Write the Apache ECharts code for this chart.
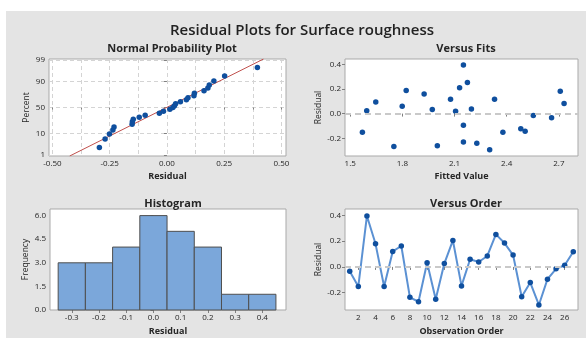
<!DOCTYPE html>
<html>
<head>
<meta charset="utf-8">
<script src="https://cdn.jsdelivr.net/npm/echarts@6.0.0/dist/echarts.min.js"></script>
<style>
html,body{margin:0;padding:0;background:#fff;}
#wrap{position:relative;width:586px;height:338px;overflow:hidden;}
#bg{position:absolute;left:6px;top:11px;right:0;bottom:0;background:#e4e4e4;}
#chart{position:absolute;left:0;top:0;width:586px;height:338px;}
</style>
</head>
<body>
<div id="wrap"><div id="bg"></div><div id="chart"></div></div>
<script>
// ---------- data ----------
const mainTitle = 'Residual Plots for Surface roughness';
const panelTitles = ['Normal Probability Plot', 'Versus Fits', 'Histogram', 'Versus Order'];

// residuals in observation order (Versus Order panel)
const observationOrder = [1,2,3,4,5,6,7,8,9,10,11,12,13,14,15,16,17,18,19,20,21,22,23,24,25,26,27];
const residualsByOrder = [-0.033,-0.151,0.395,0.179,-0.152,0.120,0.162,-0.236,-0.270,0.033,-0.251,0.026,0.205,-0.147,0.059,0.038,0.085,0.252,0.185,0.092,-0.231,-0.121,-0.295,-0.095,-0.015,0.013,0.118];

// Versus Fits panel
const fittedValues = [1.570,1.595,1.647,1.751,1.799,1.822,1.925,1.972,2.001,2.077,2.106,2.129,2.151,2.151,2.151,2.174,2.197,2.228,2.302,2.330,2.378,2.481,2.506,2.553,2.658,2.708,2.730];
const fitResiduals = [-0.152,0.024,0.095,-0.267,0.060,0.188,0.160,0.033,-0.261,0.117,0.019,0.210,0.395,-0.095,-0.231,0.253,0.038,-0.240,-0.294,0.117,-0.152,-0.122,-0.144,-0.016,-0.033,0.182,0.082];

// Normal probability plot: plotting positions (percent) of the sorted residuals
const probPercent = [2.55,6.20,9.85,13.50,17.15,20.80,24.45,28.10,31.75,35.40,39.05,42.70,46.35,50.00,53.65,57.30,60.95,64.60,68.25,71.90,75.55,79.20,82.85,86.50,90.15,93.80,97.45];
const probTickPercents = [1, 10, 50, 90, 99];
const probXTicks = [-0.5,-0.25,0,0.25,0.5];
const probXGrid = [-0.5,-0.375,-0.25,-0.125,0,0.125,0.25,0.375,0.5];

// Histogram
const histCenters = [-0.3,-0.2,-0.1,0.0,0.1,0.2,0.3,0.4];
const histCounts = [3,3,4,6,5,4,1,1];
const histBinWidth = 0.1;
const freqTicks = [0,1.5,3,4.5,6];

// tick labels
const fitsXTicks = [1.5,1.8,2.1,2.4,2.7];
const residYTicks = [-0.2,0,0.2,0.4];
const orderXTicks = [2,4,6,8,10,12,14,16,18,20,22,24,26];

// ---------- helpers ----------
function normInv(p){
  const a=[-3.969683028665376e+01,2.209460984245205e+02,-2.759285104469687e+02,1.383577518672690e+02,-3.066479806614716e+01,2.506628277459239e+00];
  const b=[-5.447609879822406e+01,1.615858368580409e+02,-1.556989798598866e+02,6.680131188771972e+01,-1.328068155288572e+01];
  const c=[-7.784894002430293e-03,-3.223964580411365e-01,-2.400758277161838e+00,-2.549732539343734e+00,4.374664141464968e+00,2.938163982698783e+00];
  const d=[7.784695709041462e-03,3.224671290700398e-01,2.445134137142996e+00,3.754408661907416e+00];
  const pl=0.02425, ph=1-pl; let q,r;
  if(p<pl){q=Math.sqrt(-2*Math.log(p));return (((((c[0]*q+c[1])*q+c[2])*q+c[3])*q+c[4])*q+c[5])/((((d[0]*q+d[1])*q+d[2])*q+d[3])*q+1);}
  if(p<=ph){q=p-0.5;r=q*q;return (((((a[0]*r+a[1])*r+a[2])*r+a[3])*r+a[4])*r+a[5])*q/(((((b[0]*r+b[1])*r+b[2])*r+b[3])*r+b[4])*r+1);}
  q=Math.sqrt(-2*Math.log(1-p));return -(((((c[0]*q+c[1])*q+c[2])*q+c[3])*q+c[4])*q+c[5])/((((d[0]*q+d[1])*q+d[2])*q+d[3])*q+1);
}
const sortedResiduals = residualsByOrder.slice().sort((x,y)=>x-y);
const probZ = probPercent.map(p=>normInv(p/100));
const probTickZ = probTickPercents.map(p=>normInv(p/100));
const n = residualsByOrder.length;
const mean = residualsByOrder.reduce((s,v)=>s+v,0)/n;
const sd = Math.sqrt(residualsByOrder.reduce((s,v)=>s+(v-mean)*(v-mean),0)/(n-1));
const zMin = -2.37, zMax = 2.37;
const fitLine = [[mean+zMin*sd, zMin],[mean+zMax*sd, zMax]];

// ---------- styling ----------
const FONT = '"Open Sans", "Noto Sans", sans-serif';
const TXT = '#262626';
const DOT = '#0f4f9e';
const FRAME = '#a9a9a9';
const tickLabel = {fontSize:8, color:TXT, fontFamily:FONT, margin:4};
const tick = {show:true, inside:false, length:3, lineStyle:{color:'#808080'}};
const axisNameStyle = {fontSize:9, color:TXT, fontFamily:FONT, fontWeight:'bold'};
const yNameStyle = {fontSize:8.5, color:TXT, fontFamily:FONT};
const panelTitleStyle = {fontSize:11, fontWeight:'bold', color:TXT, fontFamily:FONT};
const gridBase = {show:true, backgroundColor:'#ffffff', borderColor:FRAME, borderWidth:1, containLabel:false};
const zeroLine = {
  silent:true, symbol:'none', label:{show:false},
  lineStyle:{color:'#c9c9c9', type:[6,4], width:2},
  data:[{yAxis:0}]
};

const chart = echarts.init(document.getElementById('chart'), null, {renderer:'canvas'});
chart.setOption({
  backgroundColor:'transparent',
  animation:false,
  title:[
    {text:mainTitle, left:297, top:18, textAlign:'center', textStyle:{fontSize:15, fontWeight:600, color:'#222', fontFamily:FONT}},
    {text:panelTitles[0], left:167, top:38, textAlign:'center', textStyle:panelTitleStyle},
    {text:panelTitles[1], left:461, top:38, textAlign:'center', textStyle:panelTitleStyle},
    {text:panelTitles[2], left:168, top:193, textAlign:'center', textStyle:panelTitleStyle},
    {text:panelTitles[3], left:461, top:193, textAlign:'center', textStyle:panelTitleStyle}
  ],
  grid:[
    Object.assign({left:49, top:59, width:237, height:97}, gridBase),
    Object.assign({left:345, top:59, width:233, height:97}, gridBase),
    Object.assign({left:50, top:209, width:236, height:101}, gridBase),
    Object.assign({left:345, top:209, width:233, height:101}, gridBase)
  ],
  xAxis:[
    {type:'value', gridIndex:0, min:-0.515, max:0.52,
     name:'Residual', nameLocation:'middle', nameGap:16, nameTextStyle:axisNameStyle,
     axisLine:{show:false},
     axisTick:Object.assign({customValues:probXGrid}, tick, {length:2}),
     axisLabel:Object.assign({customValues:probXTicks, formatter:v=>v.toFixed(2)}, tickLabel),
     splitLine:{show:true, lineStyle:{color:'#d4d4d4', type:[4,3], width:1}}},
    {type:'value', gridIndex:1, min:1.47, max:2.81,
     name:'Fitted Value', nameLocation:'middle', nameGap:16, nameTextStyle:axisNameStyle,
     axisLine:{show:false},
     axisTick:Object.assign({customValues:fitsXTicks}, tick),
     axisLabel:Object.assign({customValues:fitsXTicks, formatter:v=>v.toFixed(1)}, tickLabel),
     splitLine:{show:false}},
    {type:'value', gridIndex:2, min:-0.38, max:0.487,
     name:'Residual', nameLocation:'middle', nameGap:17, nameTextStyle:axisNameStyle,
     axisLine:{show:false},
     axisTick:Object.assign({customValues:histCenters}, tick),
     axisLabel:Object.assign({customValues:histCenters, formatter:v=>v.toFixed(1)}, tickLabel),
     splitLine:{show:false}},
    {type:'value', gridIndex:3, min:0.45, max:27.55,
     name:'Observation Order', nameLocation:'middle', nameGap:17, nameTextStyle:axisNameStyle,
     axisLine:{show:false},
     axisTick:Object.assign({customValues:orderXTicks}, tick),
     axisLabel:Object.assign({customValues:orderXTicks, formatter:v=>String(Math.round(v))}, tickLabel),
     splitLine:{show:false}}
  ],
  yAxis:[
    {type:'value', gridIndex:0, min:zMin, max:zMax,
     name:'Percent', nameLocation:'middle', nameGap:18, nameTextStyle:yNameStyle,
     axisLine:{show:false},
     axisTick:Object.assign({customValues:probTickZ}, tick),
     axisLabel:Object.assign({customValues:probTickZ, formatter:v=>{
        let best=0; probTickZ.forEach((z,i)=>{ if(Math.abs(z-v)<Math.abs(probTickZ[best]-v)) best=i; });
        return String(probTickPercents[best]); }}, tickLabel),
     splitLine:{show:true, lineStyle:{color:'#d4d4d4', type:[4,3], width:1}}},
    {type:'value', gridIndex:1, min:-0.344, max:0.443,
     name:'Residual', nameLocation:'middle', nameGap:22, nameTextStyle:yNameStyle,
     axisLine:{show:false},
     axisTick:Object.assign({customValues:residYTicks}, tick),
     axisLabel:Object.assign({customValues:residYTicks, formatter:v=>v.toFixed(1)}, tickLabel),
     splitLine:{show:false}},
    {type:'value', gridIndex:2, min:0, max:6.42,
     name:'Frequency', nameLocation:'middle', nameGap:20, nameTextStyle:yNameStyle,
     axisLine:{show:false},
     axisTick:Object.assign({customValues:freqTicks}, tick),
     axisLabel:Object.assign({customValues:freqTicks, formatter:v=>v.toFixed(1)}, tickLabel),
     splitLine:{show:false}},
    {type:'value', gridIndex:3, min:-0.334, max:0.449,
     name:'Residual', nameLocation:'middle', nameGap:22, nameTextStyle:yNameStyle,
     axisLine:{show:false},
     axisTick:Object.assign({customValues:residYTicks}, tick),
     axisLabel:Object.assign({customValues:residYTicks, formatter:v=>v.toFixed(1)}, tickLabel),
     splitLine:{show:false}}
  ],
  series:[
    {type:'line', xAxisIndex:0, yAxisIndex:0, data:fitLine, symbol:'none', silent:true,
     lineStyle:{color:'#c0504d', width:1}, z:3},
    {type:'scatter', xAxisIndex:0, yAxisIndex:0, data:sortedResiduals.map((r,i)=>[r, probZ[i]]),
     symbol:'circle', symbolSize:5.5, itemStyle:{color:DOT, opacity:1}, z:4},
    {type:'scatter', xAxisIndex:1, yAxisIndex:1, data:fittedValues.map((f,i)=>[f, fitResiduals[i]]),
     symbol:'circle', symbolSize:5.5, itemStyle:{color:DOT, opacity:1}, markLine:zeroLine, z:4},
    {type:'custom', xAxisIndex:2, yAxisIndex:2, data:histCenters.map((c,i)=>[c, histCounts[i]]),
     encode:{x:0, y:1},
     renderItem:(params, api)=>{
       const c = api.value(0), cnt = api.value(1);
       const p0 = api.coord([c - histBinWidth/2, cnt]);
       const p1 = api.coord([c + histBinWidth/2, 0]);
       return {type:'rect', shape:{x:p0[0], y:p0[1], width:p1[0]-p0[0], height:p1[1]-p0[1]},
               style:{fill:'#7ba7da', stroke:'#4f4f4f', lineWidth:1}};
     }},
    {type:'line', xAxisIndex:3, yAxisIndex:3, data:observationOrder.map((o,i)=>[o, residualsByOrder[i]]),
     symbol:'circle', symbolSize:5.5, showSymbol:true,
     itemStyle:{color:DOT, opacity:1}, lineStyle:{color:'#5b91d3', width:2}, markLine:zeroLine, z:4}
  ]
});
</script>
</body>
</html>
